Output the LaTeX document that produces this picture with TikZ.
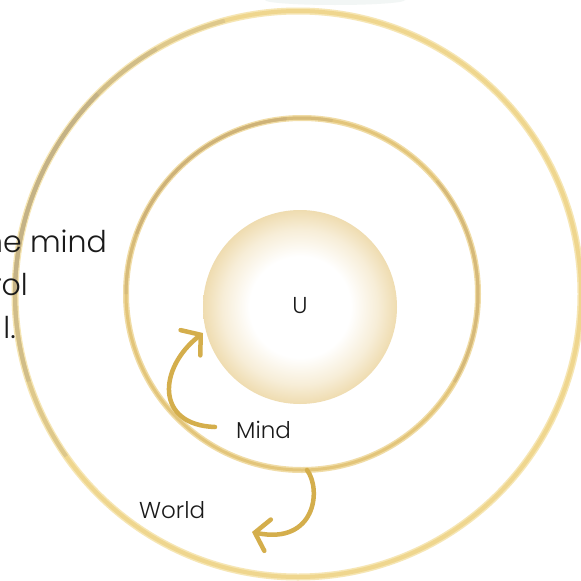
\documentclass[tikz,border=0pt]{standalone}
\usepackage{fontspec}
\setmainfont{Poppins}[UprightFont=* Light]
\usetikzlibrary{arrows.meta,calc}
\definecolor{ringsoft}{HTML}{F6E6B4}
\definecolor{ringgold}{HTML}{EFD68E}
\definecolor{ringtan}{HTML}{C4B286}
\definecolor{midsoft}{HTML}{F0DCA6}
\definecolor{midgold}{HTML}{E3C57A}
\definecolor{midtan}{HTML}{C9AE78}
\definecolor{arrowgold}{HTML}{D4AE4C}
\definecolor{diskedge}{HTML}{EFDCB0}
\definecolor{txt}{HTML}{1A1A1A}
\definecolor{haze}{HTML}{F2F6F5}
\pgfdeclareradialshading{udisk}{\pgfpoint{0bp}{0bp}}{color(0bp)=(white); color(13bp)=(white); color(20bp)=(diskedge!50); color(25bp)=(diskedge); color(50bp)=(diskedge)}
\tikzset{
  lbl/.style={font=\fontsize{23}{23}\selectfont, text=txt, inner sep=0pt},
  side/.style={font=\fontsize{30}{30}\selectfont, text=txt, inner sep=0pt},
  flow/.style={draw=arrowgold, line width=4.5pt, line cap=round, -{Straight Barb[length=13pt,width=32pt,line cap=round]}},
}
% annular sector: colour, centre, inner r, outer r, angle1, angle2
\newcommand{\ringsector}[6]{%
  \fill[#1] ($#2+(#5:#4)$) arc[start angle=#5, end angle=#6, radius=#4]
    -- ($#2+(#6:#3)$) arc[start angle=#6, end angle=#5, radius=#3] -- cycle;}
\begin{document}
\begin{tikzpicture}[x=1pt,y=-1pt]
\useasboundingbox (0,0) rectangle (581,581);
\fill[white] (0,0) rectangle (581,581);
\fill[haze] (335,0) ellipse[x radius=70, y radius=5];
% outer ring
\coordinate (oc) at (298,294);
\fill[ringsoft, even odd rule] (oc) circle[radius=286.5] (oc) circle[radius=279.5];
\fill[ringgold, even odd rule] (oc) circle[radius=285] (oc) circle[radius=281];
\ringsector{ringgold!60!ringtan}{(oc)}{281}{285}{-105}{-215}
\ringsector{ringgold!30!ringtan}{(oc)}{281}{285}{-120}{-198}
\ringsector{ringtan}{(oc)}{281}{285}{-135}{-180}
% middle ring
\coordinate (mc) at (302,294);
\fill[midsoft, even odd rule] (mc) circle[radius=179] (mc) circle[radius=173];
\fill[midgold, even odd rule] (mc) circle[radius=177.5] (mc) circle[radius=174.5];
\ringsector{midgold!55!midtan}{(mc)}{174.5}{177.5}{-80}{-180}
\ringsector{midgold!20!midtan}{(mc)}{174.5}{177.5}{-95}{-160}
\ringsector{midgold!50!midtan}{(mc)}{174.5}{177.5}{30}{-40}
% inner disk
\shade[shading=udisk] (300,307) circle[radius=97];
% labels
\node[lbl, anchor=base] (u) at (300,313) {U};
\node[lbl, anchor=base west] (mind) at (236,438) {Mind};
\node[lbl, anchor=base west] (world) at (139,518) {World};
\node[side, anchor=base east] (t1) at (107,252) {he mind};
\node[side, anchor=base east] (t2) at (28,295) {rol};
\node[side, anchor=base east] (t3) at (16,338) {l.};
% arrows
\coordinate (m0) at (215,427);
\coordinate (m1) at (203,333);
\draw[flow] (m0) .. controls (155,425) and (158,368) .. (m1);
\coordinate (w0) at (307,470);
\coordinate (w1) at (252,532);
\draw[flow] (w0) .. controls (322,490) and (315,545) .. (w1);
\end{tikzpicture}
\end{document}
